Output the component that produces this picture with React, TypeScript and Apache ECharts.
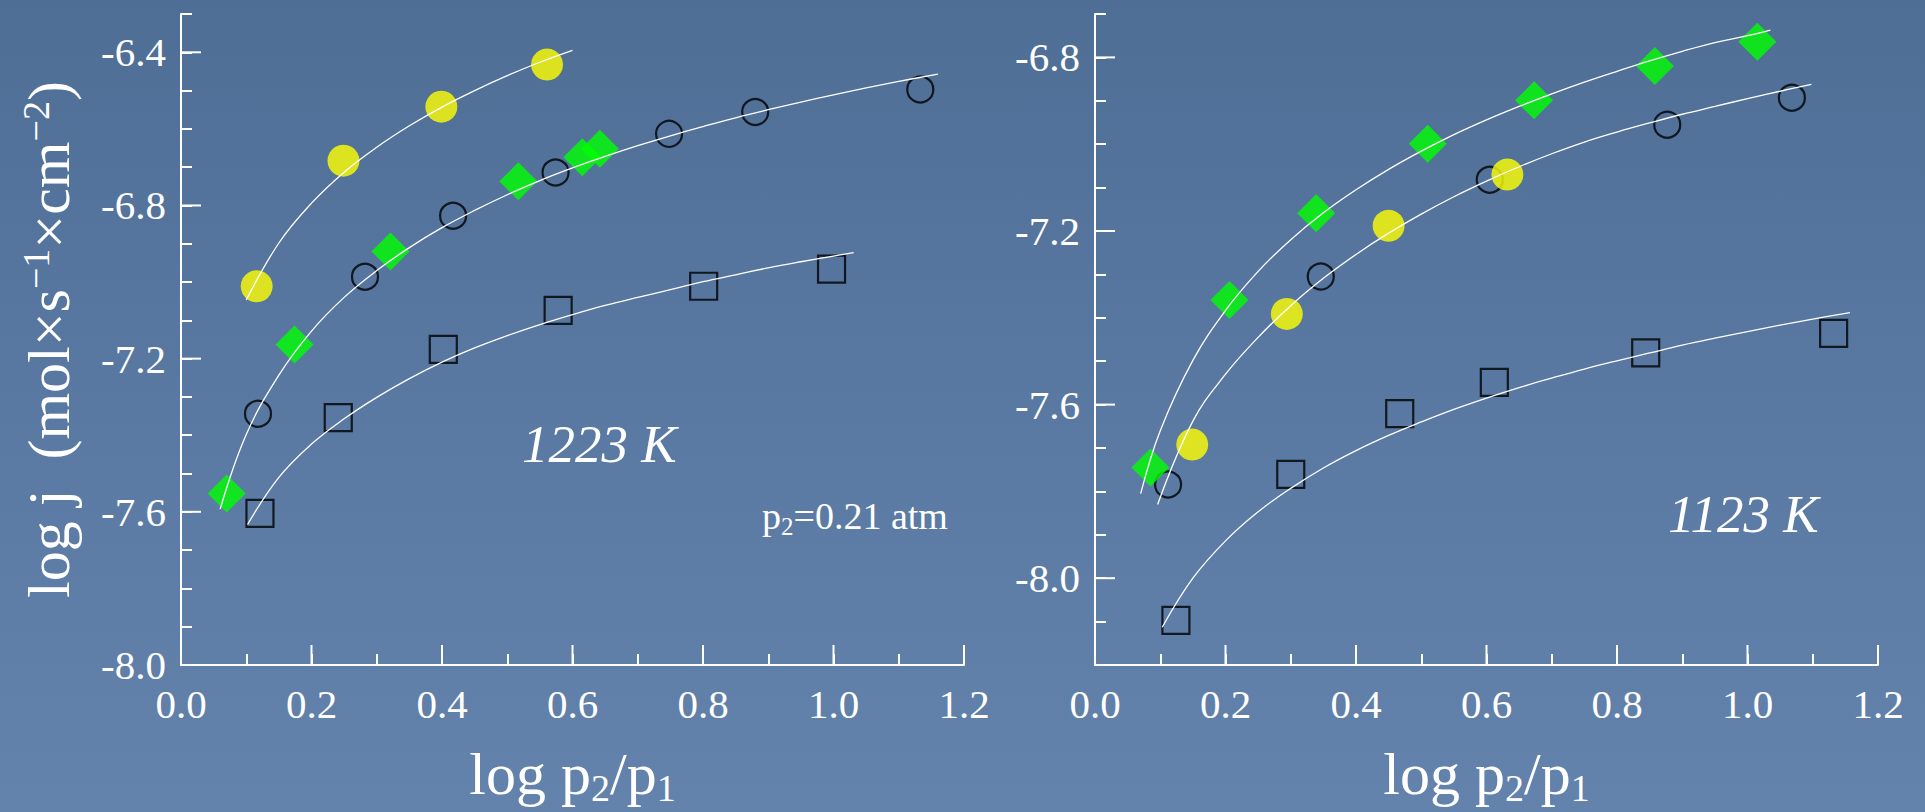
import React, { useEffect, useRef } from 'react';
import * as echarts from 'echarts';

const FONT = 'Liberation Serif, Times New Roman, serif';

// Axis extents and labelled (long) tick positions
const xRange = [0, 1.2];
const leftYRange = [-8.0, -6.3];
const rightYRange = [-8.2, -6.7];
const xMajorTicks = [0.2, 0.4, 0.6, 0.8, 1.0, 1.2];
const leftYMajorTicks = [-7.6, -7.2, -6.8, -6.4];
const rightYMajorTicks = [-8.0, -7.6, -7.2, -6.8];

// 1223 K panel: measured points [log p2/p1, log j]
const leftYellow = [[0.116, -7.011], [0.249, -6.683], [0.399, -6.542], [0.561, -6.432]];
const leftCircle = [[0.118, -7.344], [0.282, -6.986], [0.417, -6.827], [0.574, -6.714], [0.748, -6.613], [0.880, -6.556], [1.133, -6.497]];
const leftDiamond = [[0.070, -7.552], [0.174, -7.163], [0.321, -6.920], [0.517, -6.737], [0.615, -6.674], [0.642, -6.652]];
const leftSquare = [[0.121, -7.604], [0.241, -7.354], [0.402, -7.176], [0.578, -7.074], [0.801, -7.011], [0.997, -6.966]];

// 1223 K panel: fitted curves
const leftYellowFit = [[0.10, -7.047], [0.15, -6.898], [0.20, -6.794], [0.25, -6.713], [0.30, -6.648], [0.35, -6.592], [0.40, -6.543], [0.45, -6.500], [0.50, -6.461], [0.55, -6.426], [0.60, -6.395]];
const leftMidFit = [[0.06, -7.593], [0.10, -7.398], [0.15, -7.243], [0.20, -7.128], [0.25, -7.040], [0.30, -6.970], [0.35, -6.910], [0.40, -6.858], [0.45, -6.813], [0.50, -6.772], [0.55, -6.735], [0.60, -6.702], [0.65, -6.672], [0.70, -6.644], [0.75, -6.618], [0.80, -6.594], [0.85, -6.571], [0.90, -6.550], [0.95, -6.530], [1.00, -6.511], [1.05, -6.493], [1.10, -6.476], [1.16, -6.457]];
const leftSquareFit = [[0.102, -7.633], [0.15, -7.510], [0.20, -7.423], [0.25, -7.357], [0.30, -7.301], [0.35, -7.252], [0.40, -7.209], [0.45, -7.172], [0.50, -7.140], [0.55, -7.111], [0.60, -7.085], [0.65, -7.061], [0.70, -7.040], [0.75, -7.020], [0.80, -6.999], [0.85, -6.981], [0.90, -6.963], [0.95, -6.947], [1.00, -6.932], [1.031, -6.923]];

// 1123 K panel: measured points
const rightDiamond = [[0.085, -7.745], [0.206, -7.359], [0.339, -7.159], [0.510, -6.999], [0.673, -6.899], [0.858, -6.820], [1.015, -6.764]];
const rightYellow = [[0.149, -7.692], [0.294, -7.391], [0.450, -7.188], [0.632, -7.070]];
const rightCircle = [[0.112, -7.784], [0.346, -7.305], [0.605, -7.082], [0.877, -6.955], [1.068, -6.893]];
const rightSquare = [[0.124, -8.097], [0.300, -7.761], [0.467, -7.621], [0.612, -7.549], [0.844, -7.481], [1.132, -7.436]];

// 1123 K panel: fitted curves
const rightGreenFit = [[0.07, -7.805], [0.10, -7.660], [0.15, -7.498], [0.20, -7.383], [0.25, -7.293], [0.30, -7.220], [0.35, -7.158], [0.40, -7.105], [0.45, -7.058], [0.50, -7.016], [0.55, -6.978], [0.60, -6.944], [0.65, -6.913], [0.70, -6.884], [0.75, -6.857], [0.80, -6.832], [0.85, -6.808], [0.90, -6.786], [0.95, -6.766], [1.00, -6.750], [1.035, -6.737]];
const rightMidFit = [[0.096, -7.830], [0.15, -7.638], [0.20, -7.530], [0.25, -7.445], [0.30, -7.372], [0.35, -7.309], [0.40, -7.254], [0.45, -7.205], [0.50, -7.161], [0.55, -7.121], [0.60, -7.085], [0.65, -7.052], [0.70, -7.022], [0.75, -6.995], [0.80, -6.972], [0.85, -6.951], [0.90, -6.931], [0.95, -6.913], [1.00, -6.895], [1.05, -6.878], [1.098, -6.862]];
const rightSquareFit = [[0.103, -8.113], [0.15, -8.000], [0.20, -7.914], [0.25, -7.847], [0.30, -7.793], [0.35, -7.746], [0.40, -7.706], [0.45, -7.671], [0.50, -7.640], [0.55, -7.611], [0.60, -7.585], [0.65, -7.561], [0.70, -7.539], [0.75, -7.518], [0.80, -7.499], [0.85, -7.481], [0.90, -7.463], [0.95, -7.447], [1.00, -7.432], [1.05, -7.417], [1.10, -7.403], [1.157, -7.388]];

const WHITE = '#ffffff';
const YELLOW = '#ffff00';
const GREEN = '#00ff00';

function xAxisFor(gridIndex: number) {
  return {
    type: 'value',
    gridIndex,
    min: xRange[0],
    max: xRange[1],
    interval: 0.1,
    axisLine: { show: true, onZero: false, lineStyle: { color: WHITE, width: 2 } },
    axisTick: { show: true, inside: true, length: 11, lineStyle: { color: WHITE, width: 2 } },
    splitLine: { show: false },
    axisLabel: {
      color: WHITE,
      fontSize: 41,
      fontFamily: FONT,
      margin: 18,
      formatter: (v: number) => (Math.round(v * 10) % 2 === 0 ? v.toFixed(1) : ''),
    },
    name: '{a|log p}{b|2}{a|/p}{b|1}',
    nameLocation: 'middle',
    nameGap: 76,
    nameTextStyle: {
      rich: {
        a: { color: WHITE, fontSize: 60, fontFamily: FONT, lineHeight: 66 },
        b: { color: WHITE, fontSize: 38, fontFamily: FONT, lineHeight: 38, verticalAlign: 'bottom' },
      },
    },
  };
}

function yAxisFor(gridIndex: number, range: number[], withName: boolean) {
  return {
    type: 'value',
    gridIndex,
    min: range[0],
    max: range[1],
    interval: 0.1,
    axisLine: { show: true, onZero: false, lineStyle: { color: WHITE, width: 2 } },
    axisTick: { show: true, inside: true, length: 11, lineStyle: { color: WHITE, width: 2 } },
    splitLine: { show: false },
    axisLabel: {
      color: WHITE,
      fontSize: 41,
      fontFamily: FONT,
      margin: 15,
      formatter: (v: number) => {
        const k = Math.round((v + 8) * 10);
        return k % 4 === 0 ? v.toFixed(1) : '';
      },
    },
    name: withName ? '{a|log j  (mol×s}{s|−1}{a|×cm}{s|−2}{a|)}' : '',
    nameLocation: 'middle',
    nameGap: 100,
    nameRotate: 90,
    nameTextStyle: {
      rich: {
        a: { color: WHITE, fontSize: 60, fontFamily: FONT, lineHeight: 64 },
        s: { color: WHITE, fontSize: 38, fontFamily: FONT, lineHeight: 40, verticalAlign: 'top' },
      },
    },
  };
}

// Long ticks drawn through the axis scales
function xTickSeries(axisIndex: number, yMin: number) {
  return {
    type: 'custom',
    xAxisIndex: axisIndex,
    yAxisIndex: axisIndex,
    silent: true,
    clip: false,
    z: 5,
    data: xMajorTicks.map((v) => [v, yMin]),
    renderItem: (_p: any, api: any) => {
      const pt = api.coord([api.value(0), api.value(1)]);
      return {
        type: 'line',
        shape: { x1: pt[0], y1: pt[1], x2: pt[0], y2: pt[1] - 20 },
        style: { stroke: WHITE, lineWidth: 2 },
      };
    },
  };
}

function yTickSeries(axisIndex: number, ticks: number[]) {
  return {
    type: 'custom',
    xAxisIndex: axisIndex,
    yAxisIndex: axisIndex,
    silent: true,
    clip: false,
    z: 5,
    data: ticks.map((v) => [xRange[0], v]),
    renderItem: (_p: any, api: any) => {
      const pt = api.coord([api.value(0), api.value(1)]);
      return {
        type: 'line',
        shape: { x1: pt[0], y1: pt[1], x2: pt[0] + 20, y2: pt[1] },
        style: { stroke: WHITE, lineWidth: 2 },
      };
    },
  };
}

function fitSeries(axisIndex: number, data: number[][]) {
  return {
    type: 'line',
    xAxisIndex: axisIndex,
    yAxisIndex: axisIndex,
    data,
    smooth: 0.4,
    showSymbol: false,
    silent: true,
    z: 4,
    lineStyle: { color: WHITE, width: 1.3 },
  };
}

function openSeries(axisIndex: number, data: number[][], symbol: string, size: number) {
  return {
    type: 'scatter',
    xAxisIndex: axisIndex,
    yAxisIndex: axisIndex,
    data,
    symbol,
    symbolSize: size,
    z: 2,
    itemStyle: { color: 'rgba(0,0,0,0)', borderColor: '#000000', borderWidth: 2.2 },
  };
}

function filledSeries(axisIndex: number, data: number[][], symbol: string, size: number, color: string) {
  return {
    type: 'scatter',
    xAxisIndex: axisIndex,
    yAxisIndex: axisIndex,
    data,
    symbol,
    symbolSize: size,
    z: 3,
    itemStyle: { color, borderWidth: 0 },
  };
}

export default function App() {
  const ref = useRef<HTMLDivElement>(null);

  useEffect(() => {
    document.body.style.margin = '0';
    if (!ref.current) return;
    const chart = echarts.init(ref.current, undefined, { renderer: 'svg' });
    chart.setOption({
      animation: false,
      backgroundColor: 'transparent',
      grid: [
        { left: 181, top: 14, width: 783, height: 653 },
        { left: 1095, top: 14, width: 783, height: 653 },
      ],
      xAxis: [xAxisFor(0), xAxisFor(1)],
      yAxis: [yAxisFor(0, leftYRange, true), yAxisFor(1, rightYRange, false)],
      series: [
        openSeries(0, leftSquare, 'rect', 27),
        openSeries(0, leftCircle, 'circle', 26),
        filledSeries(0, leftDiamond, 'diamond', 38, GREEN),
        filledSeries(0, leftYellow, 'circle', 32, YELLOW),
        fitSeries(0, leftYellowFit),
        fitSeries(0, leftMidFit),
        fitSeries(0, leftSquareFit),
        openSeries(1, rightSquare, 'rect', 27),
        openSeries(1, rightCircle, 'circle', 26),
        filledSeries(1, rightDiamond, 'diamond', 38, GREEN),
        filledSeries(1, rightYellow, 'circle', 32, YELLOW),
        fitSeries(1, rightGreenFit),
        fitSeries(1, rightMidFit),
        fitSeries(1, rightSquareFit),
        xTickSeries(0, leftYRange[0]),
        xTickSeries(1, rightYRange[0]),
        yTickSeries(0, leftYMajorTicks),
        yTickSeries(1, rightYMajorTicks),
      ],
      graphic: [
        {
          type: 'text',
          x: 522,
          y: 444,
          style: {
            text: '1223 K',
            fill: WHITE,
            font: `italic 53px ${FONT}`,
            align: 'left',
            verticalAlign: 'middle',
          },
        },
        {
          type: 'text',
          x: 1668,
          y: 514,
          style: {
            text: '1123 K',
            fill: WHITE,
            font: `italic 53px ${FONT}`,
            align: 'left',
            verticalAlign: 'middle',
          },
        },
        {
          type: 'text',
          x: 762,
          y: 493,
          style: {
            text: '{a|p}{b|2}{a|=0.21 atm}',
            align: 'left',
            verticalAlign: 'top',
            rich: {
              a: { fill: WHITE, fontSize: 38, fontFamily: FONT, lineHeight: 46 },
              b: { fill: WHITE, fontSize: 25, fontFamily: FONT, lineHeight: 25, verticalAlign: 'bottom' },
            },
          },
        },
      ],
    });
    return () => chart.dispose();
  }, []);

  return (
    <div
      ref={ref}
      style={{
        position: 'fixed',
        left: 0,
        top: 0,
        width: 1925,
        height: 812,
        background: 'linear-gradient(180deg, #4e6e96 0%, #5878a1 45%, #6383ac 100%)',
      }}
    />
  );
}
